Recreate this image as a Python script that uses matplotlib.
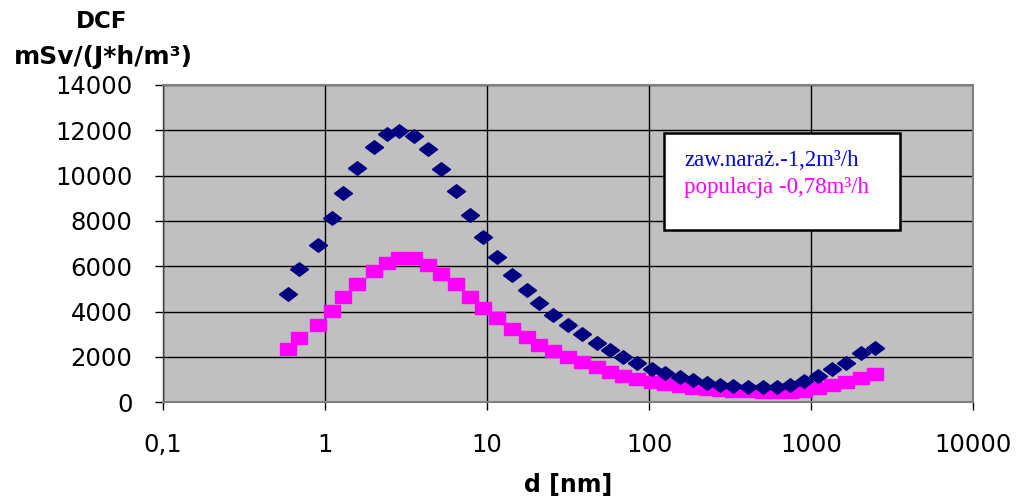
import matplotlib
matplotlib.use("Agg")
import matplotlib.pyplot as plt
from matplotlib.patches import Rectangle
from matplotlib.ticker import FixedLocator, NullLocator
import numpy as np

# particle diameter [nm]
d_nm = [0.59, 0.69, 0.90, 1.11, 1.29, 1.58, 2.0, 2.4, 2.88, 3.54,
        4.34, 5.2, 6.4, 7.9, 9.4, 11.6, 14.2, 17.6, 21, 25.7,
        31.8, 38.4, 47.5, 57.5, 69.4, 84.6, 104, 125, 155, 188,
        227, 274, 331, 410, 504, 620, 742, 905, 1110, 1342,
        1645, 2027, 2483]

# DCF, occupational exposure (1.2 m3/h)
dcf_work = [4770, 5860, 6960, 8140, 9240, 10320, 11250, 11840, 11980, 11760,
            11170, 10280, 9320, 8260, 7300, 6390, 5610, 4950, 4360, 3840,
            3400, 3000, 2620, 2300, 2000, 1740, 1490, 1290, 1120, 970,
            870, 780, 720, 680, 660, 690, 760, 940, 1160, 1460,
            1750, 2160, 2390]

# DCF, general population (0.78 m3/h)
dcf_pop = [2340, 2840, 3430, 4020, 4650, 5240, 5790, 6150, 6370, 6370,
           6080, 5680, 5240, 4650, 4140, 3700, 3240, 2870, 2530, 2270,
           2010, 1790, 1550, 1350, 1170, 1030, 910, 810, 720, 640,
           590, 540, 500, 480, 450, 450, 460, 500, 620, 760,
           910, 1070, 1230]

x_ticks = [0.1, 1, 10, 100, 1000, 10000]
x_labels = ["0,1", "1", "10", "100", "1000", "10000"]
y_ticks = np.arange(0, 14001, 2000)

label_work = "zaw.naraż.-1,2m³/h"
label_pop = "populacja -0,78m³/h"

plt.rcParams["font.family"] = ["DejaVu Sans"]

fig = plt.figure(figsize=(10.24, 4.97), dpi=100)
ax = fig.add_axes([0.1592, 0.1905, 0.7910, 0.6385])
ax.set_facecolor("#C0C0C0")

# slightly flattened diamond / rectangle like the Excel markers
diamond = [(-1, 0), (0, 0.75), (1, 0), (0, -0.75), (-1, 0)]
rect = [(-1, -0.7), (1, -0.7), (1, 0.7), (-1, 0.7), (-1, -0.7)]
ax.plot(d_nm, dcf_work, linestyle="none", marker=diamond, markersize=13,
        color="#000080", zorder=3)
ax.plot(d_nm, dcf_pop, linestyle="none", marker=rect, markersize=12,
        color="#FF00FF", zorder=2)

ax.set_xscale("log")
ax.set_xlim(0.1, 10000)
ax.set_ylim(0, 14000)
ax.xaxis.set_major_locator(FixedLocator(x_ticks))
ax.xaxis.set_minor_locator(NullLocator())
ax.set_xticklabels(x_labels)
ax.set_yticks(y_ticks)
ax.set_yticklabels([str(v) for v in y_ticks])
ax.tick_params(axis="both", which="major", labelsize=17.5, length=6,
               width=1, color="black", direction="out")
ax.tick_params(axis="y", pad=16)
ax.tick_params(axis="x", pad=16)

ax.grid(True, which="major", color="black", linewidth=1)
ax.set_axisbelow(True)
for side in ["top", "right", "bottom"]:
    ax.spines[side].set_color("#808080")
    ax.spines[side].set_linewidth(1.5)
ax.spines["left"].set_color("#404040")
ax.spines["left"].set_linewidth(1)

# legend box (text only, like the original)
ax.add_patch(Rectangle((0.6185, 0.5426), 0.2914, 0.306, transform=ax.transAxes,
                       facecolor="white", edgecolor="black", linewidth=1.8,
                       zorder=5))
ax.text(0.6435, 0.745, label_work, transform=ax.transAxes, color="#0000FF",
        family=["Liberation Serif"], fontsize=16.5, zorder=6)
ax.text(0.6435, 0.66, label_pop, transform=ax.transAxes, color="#FF00FF",
        family=["Liberation Serif"], fontsize=16.5, zorder=6)

fig.text(102 / 1024, 1 - 22 / 497, "DCF", ha="center", va="center",
         fontsize=16.5, fontweight="bold")
fig.text(103 / 1024, 1 - 57 / 497, "mSv/(J*h/m³)", ha="center", va="center",
         fontsize=18, fontweight="bold")
fig.text(568 / 1024, 1 - 485 / 497, "d [nm]", ha="center", va="center",
         fontsize=17, fontweight="bold")

fig.savefig("out.png", dpi=100, facecolor="white")
